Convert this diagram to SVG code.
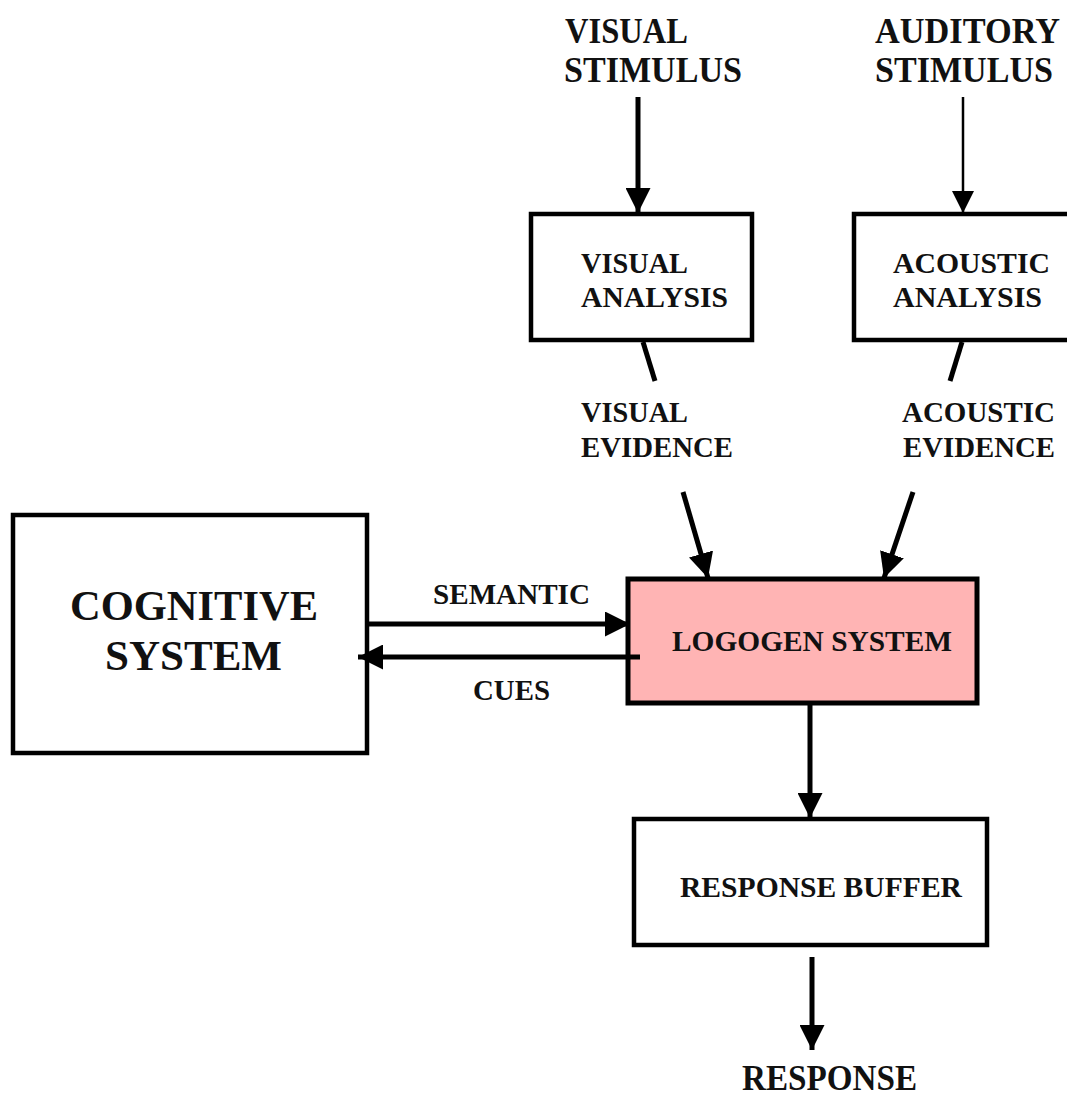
<svg xmlns="http://www.w3.org/2000/svg" width="1067" height="1097" viewBox="0 0 1067 1097">
  <defs>
    <style>
      .box { fill: #ffffff; stroke: #000000; stroke-width: 4.5; }
      .logo { fill: #ffb4b4; stroke: #000000; stroke-width: 5; }
      .lbl { font-family: "Liberation Serif", "Times New Roman", serif; font-weight: bold; fill: #111111; }
      .big { font-size: 35px; }
      .mid { font-size: 30px; }
      .huge { font-size: 43px; }
      .wire { stroke: #000000; fill: none; }
      .thick { stroke-width: 5; }
      .thin { stroke-width: 2.5; }
    </style>
    <marker id="head" viewBox="0 0 10 10" refX="10" refY="5" markerWidth="5" markerHeight="5" markerUnits="strokeWidth" orient="auto">
      <path d="M0,0 L10,5 L0,10 Z" fill="#000000"/>
    </marker>
    <marker id="headThin" viewBox="0 0 10 10" refX="10" refY="5" markerWidth="9" markerHeight="9" markerUnits="strokeWidth" orient="auto">
      <path d="M0,0 L10,5 L0,10 Z" fill="#000000"/>
    </marker>
  </defs>

  <rect width="1067" height="1097" fill="#ffffff"/>

  <!-- input labels -->
  <g id="visual-stimulus">
    <text class="lbl big" x="565" y="43" textLength="123" lengthAdjust="spacingAndGlyphs">VISUAL</text>
    <text class="lbl big" x="564" y="82" textLength="178" lengthAdjust="spacingAndGlyphs">STIMULUS</text>
  </g>
  <g id="auditory-stimulus">
    <text class="lbl big" x="875" y="43" textLength="185" lengthAdjust="spacingAndGlyphs">AUDITORY</text>
    <text class="lbl big" x="875" y="82" textLength="178" lengthAdjust="spacingAndGlyphs">STIMULUS</text>
  </g>

  <!-- analysis stages -->
  <g id="visual-analysis">
    <rect class="box" x="531" y="214" width="221" height="126"/>
    <text class="lbl mid" x="581" y="273" textLength="107" lengthAdjust="spacingAndGlyphs">VISUAL</text>
    <text class="lbl mid" x="581" y="307" textLength="147" lengthAdjust="spacingAndGlyphs">ANALYSIS</text>
  </g>
  <g id="acoustic-analysis">
    <rect class="box" x="854" y="214" width="240" height="126"/>
    <text class="lbl mid" x="893" y="273" textLength="157" lengthAdjust="spacingAndGlyphs">ACOUSTIC</text>
    <text class="lbl mid" x="893" y="307" textLength="149" lengthAdjust="spacingAndGlyphs">ANALYSIS</text>
  </g>

  <!-- evidence labels -->
  <g id="visual-evidence">
    <text class="lbl mid" x="581" y="422" textLength="107" lengthAdjust="spacingAndGlyphs">VISUAL</text>
    <text class="lbl mid" x="581" y="457" textLength="152" lengthAdjust="spacingAndGlyphs">EVIDENCE</text>
  </g>
  <g id="acoustic-evidence">
    <text class="lbl mid" x="902" y="422" textLength="153" lengthAdjust="spacingAndGlyphs">ACOUSTIC</text>
    <text class="lbl mid" x="903" y="457" textLength="152" lengthAdjust="spacingAndGlyphs">EVIDENCE</text>
  </g>

  <!-- central stores -->
  <g id="cognitive-system">
    <rect class="box" x="13" y="515" width="354" height="238"/>
    <text class="lbl huge" x="70" y="620" textLength="248" lengthAdjust="spacingAndGlyphs">COGNITIVE</text>
    <text class="lbl huge" x="105" y="670" textLength="177" lengthAdjust="spacingAndGlyphs">SYSTEM</text>
  </g>
  <g id="logogen-system">
    <rect class="logo" x="628" y="579" width="349" height="124"/>
    <text class="lbl mid" x="672" y="651" textLength="280" lengthAdjust="spacingAndGlyphs">LOGOGEN SYSTEM</text>
  </g>
  <g id="response-buffer">
    <rect class="box" x="634" y="819" width="353" height="126"/>
    <text class="lbl mid" x="680" y="897" textLength="282" lengthAdjust="spacingAndGlyphs">RESPONSE BUFFER</text>
  </g>
  <g id="response">
    <text class="lbl big" x="742" y="1090" textLength="175" lengthAdjust="spacingAndGlyphs">RESPONSE</text>
  </g>

  <!-- connector labels -->
  <g id="link-labels">
    <text class="lbl mid" x="433" y="604" textLength="157" lengthAdjust="spacingAndGlyphs">SEMANTIC</text>
    <text class="lbl mid" x="473" y="700" textLength="77" lengthAdjust="spacingAndGlyphs">CUES</text>
  </g>

  <!-- connectors -->
  <g id="connectors">
    <line class="wire thick" x1="638" y1="97" x2="638" y2="213" marker-end="url(#head)"/>
    <line class="wire thin" x1="963" y1="97" x2="963" y2="213" marker-end="url(#headThin)"/>
    <line class="wire thick" x1="643" y1="342" x2="655" y2="381"/>
    <line class="wire thick" x1="962" y1="342" x2="950" y2="381"/>
    <line class="wire thick" x1="683" y1="492" x2="708" y2="578" marker-end="url(#head)"/>
    <line class="wire thick" x1="913" y1="492" x2="884" y2="578" marker-end="url(#head)"/>
    <line class="wire thick" x1="368" y1="624" x2="630" y2="624" marker-end="url(#head)"/>
    <line class="wire thick" x1="640" y1="657" x2="358" y2="657" marker-end="url(#head)"/>
    <line class="wire thick" x1="810" y1="703" x2="810" y2="818" marker-end="url(#head)"/>
    <line class="wire thick" x1="812" y1="957" x2="812" y2="1050" marker-end="url(#head)"/>
  </g>
</svg>
